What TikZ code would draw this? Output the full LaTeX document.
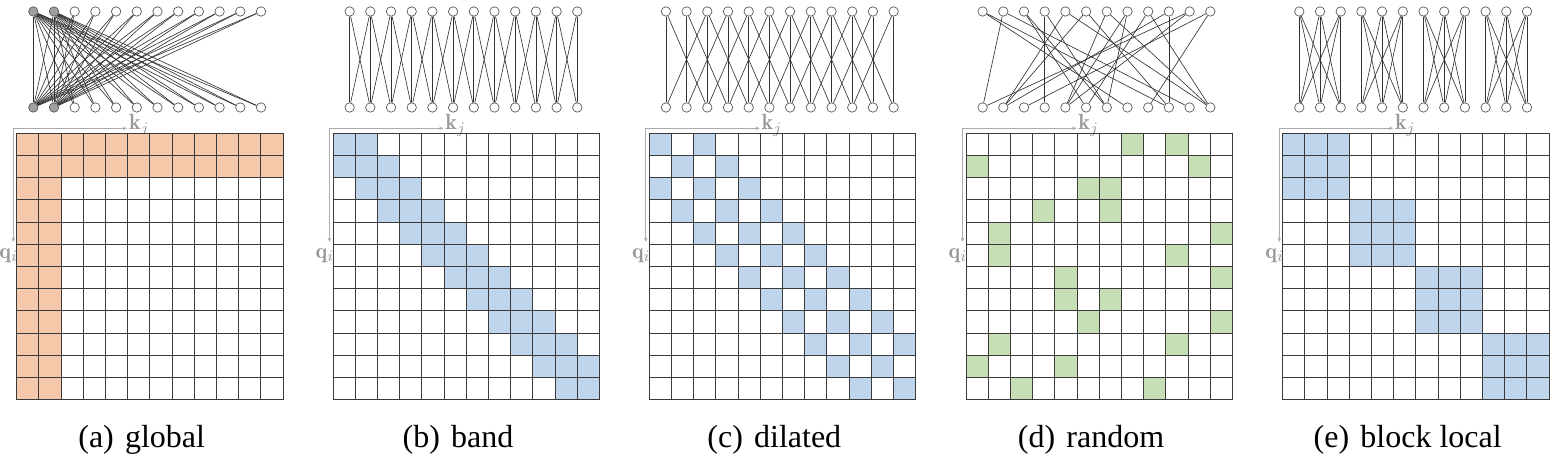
\documentclass[tikz,border=0pt]{standalone}
\usepackage{fontspec}
\usetikzlibrary{arrows.meta,calc}
\newfontfamily\capfont{Liberation Serif}
\definecolor{peach}{HTML}{F5C8AA}
\definecolor{lightblue}{HTML}{BFD5EB}
\definecolor{lightgreen}{HTML}{C6DFB5}
\definecolor{axisgray}{HTML}{ABABAB}
\definecolor{labelgray}{HTML}{9A9A9A}
\definecolor{gridgray}{HTML}{3A3A3A}
\definecolor{nodegray}{HTML}{5A5A5A}
\definecolor{hubgray}{HTML}{A0A0A0}
\tikzset{
  gridline/.style={draw=gridgray,line width=0.45pt},
  vert/.style={circle,draw=nodegray,fill=white,line width=0.35pt,minimum size=4.7pt,inner sep=0pt},
  hub/.style={vert,fill=hubgray},
  link/.style={draw=black!80,line width=0.32pt},
  axis/.style={draw=axisgray,line width=0.4pt,{Stealth[length=2.2pt,width=1.8pt]}-{Stealth[length=2.2pt,width=1.8pt]}},
  axlabel/.style={text=labelgray,font=\fontsize{11}{13}\selectfont,inner sep=0pt},
  caption/.style={font=\capfont\fontsize{16}{18}\selectfont,inner sep=0pt}
}
\def\csz{22.2}
\begin{document}
\begin{tikzpicture}[x=0.5pt,y=-0.5pt]
\path[use as bounding box] (0,0) rectangle (1563,469);
\foreach \p/\gx/\cap/\nh in {a/16.7/global/2,b/333/band/0,c/649.3/dilated/0,d/966/random/0,e/1282.7/block local/0}{
 \foreach \k in {0,...,11}{
  \ifnum\k<\nh \def\vst{hub}\else\def\vst{vert}\fi
  \node[\vst] (\p-t-\k) at (\gx+16.6+20.7*\k,11.5) {};
  \node[\vst] (\p-b-\k) at (\gx+16.6+20.7*\k,107.5) {};
 }
 \coordinate (\p-kx) at (\gx+110.5,128.3);
 \coordinate (\p-qy) at (\gx-3.5,242);
 \draw[axis] (\p-qy) |- (\p-kx);
 \node[axlabel,anchor=base west] (\p-k) at ($(\p-kx)+(1.5,1.5)$) {$\mathbf{k}_j$};
 \node[axlabel,anchor=north east] (\p-q) at ($(\p-qy)+(5,6)$) {$\mathbf{q}_i$};
 \node[caption,anchor=base] (\p-cap) at (\gx+125,448) {(\p)\hspace{0.35em}\cap};
}
% global
\foreach \i in {0,...,11}{\foreach \j in {0,...,11}{
  \pgfmathtruncatemacro\on{or(\i<2,\j<2)}
  \ifnum\on=1
   \fill[peach] (16.7+\j*\csz,133.3+\i*\csz) rectangle ++(\csz,\csz);
   \draw[link] (a-t-\i) -- (a-b-\j);
  \fi
}}
% band
\foreach \i in {0,...,11}{\foreach \j in {0,...,11}{
  \pgfmathtruncatemacro\on{abs(\i-\j)<2}
  \ifnum\on=1
   \fill[lightblue] (333+\j*\csz,133.3+\i*\csz) rectangle ++(\csz,\csz);
   \draw[link] (b-t-\i) -- (b-b-\j);
  \fi
}}
% dilated
\foreach \i in {0,...,11}{\foreach \j in {0,...,11}{
  \pgfmathtruncatemacro\on{or(\i==\j,abs(\i-\j)==2)}
  \ifnum\on=1
   \fill[lightblue] (649.3+\j*\csz,133.3+\i*\csz) rectangle ++(\csz,\csz);
   \draw[link] (c-t-\i) -- (c-b-\j);
  \fi
}}
% random
\foreach \i/\j in {0/7,0/9,1/0,1/10,2/5,2/6,3/3,3/6,4/1,4/11,5/1,5/9,6/4,6/11,7/4,7/6,8/5,8/11,9/1,9/9,10/0,10/4,11/2,11/8}{
  \fill[lightgreen] (966+\j*\csz,133.3+\i*\csz) rectangle ++(\csz,\csz);
  \draw[link] (d-t-\i) -- (d-b-\j);
}
% block local
\foreach \i in {0,...,11}{\foreach \j in {0,...,11}{
  \pgfmathtruncatemacro\on{int(\i/3)==int(\j/3)}
  \ifnum\on=1
   \fill[lightblue] (1282.7+\j*\csz,133.3+\i*\csz) rectangle ++(\csz,\csz);
   \draw[link] (e-t-\i) -- (e-b-\j);
  \fi
}}
% grids
\foreach \gx in {16.7,333,649.3,966,1282.7}{
 \foreach \k in {0,...,12}{
  \draw[gridline] (\gx+\k*\csz,133.3) -- ++(0,266.4);
  \draw[gridline] (\gx,133.3+\k*\csz) -- ++(266.4,0);
 }
}
\end{tikzpicture}
\end{document}
